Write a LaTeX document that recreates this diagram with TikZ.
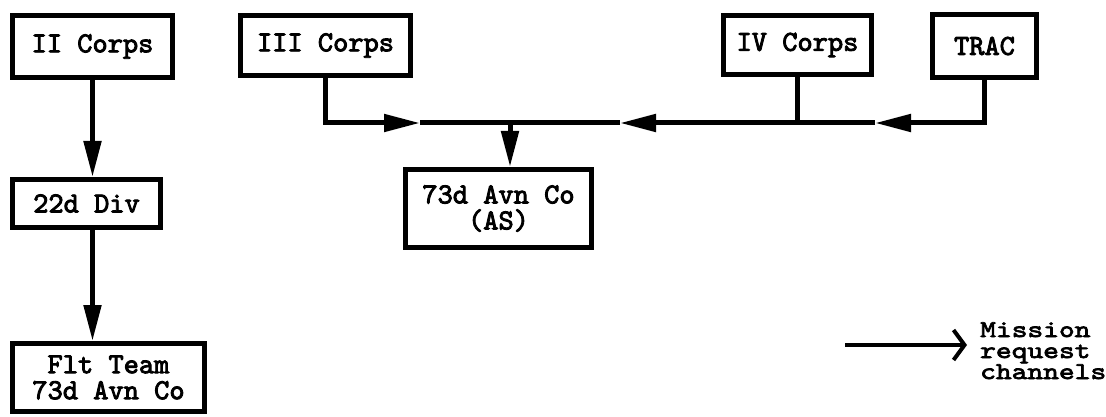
\documentclass[tikz,border=0pt]{standalone}
\usepackage{fontspec}
\usetikzlibrary{arrows.meta}
% heavy typewriter lettering
\newfontfamily\twb{lmmono10-regular.otf}[FakeBold=3]
\newfontfamily\twl{lmmono10-regular.otf}[FakeBold=3,FakeStretch=1.25]
\tikzset{
  box/.style={draw, line width=5pt, inner sep=0pt, align=center,
    font={\twb\fontsize{29}{26}\selectfont}},
  link/.style={line width=5pt},
  arr/.style={link, -{Triangle[length=36pt,width=17pt]}},
  legendarr/.style={line width=4pt, -{Straight Barb[length=11pt,width=30pt,line width=4pt]}},
  legendtext/.style={align=left, inner sep=0pt,
    font={\twl\fontsize{24}{21}\selectfont}}
}
\begin{document}
\begin{tikzpicture}[x=1pt,y=-1pt]
  \useasboundingbox (0,0) rectangle (1106,417);

  % boxes
  \node[box, minimum width=160pt, minimum height=62pt] (II)   at (92.5,46.5)  {II Corps};
  \node[box, minimum width=148pt, minimum height=48pt] (div)  at (86.5,203.5) {22d Div};
  \node[box, minimum width=192pt, minimum height=68pt] (flt)  at (108.5,377.5) {Flt Team\\73d Avn Co};
  \node[box, minimum width=170pt, minimum height=60pt] (III)  at (325.5,45.5) {III Corps};
  \node[box, minimum width=186pt, minimum height=78pt] (avn)  at (498.5,208.5) {73d Avn Co\\(AS)};
  \node[box, minimum width=148pt, minimum height=59pt] (IV)   at (797.5,45)   {IV Corps};
  \node[box, minimum width=104pt, minimum height=63pt] (trac) at (984.5,46)   {TRAC};

  % left chain
  \draw[arr] (II.south) -- (II.south |- div.north);
  \draw[arr] (II.south |- div.south) -- (II.south |- flt.north);

  % common bus feeding the 73d Avn Co
  \coordinate (j)  at (510,123);
  \coordinate (k)  at (IV.south |- j);
  \coordinate (tA) at (420,123);
  \coordinate (tB) at (620,123);
  \coordinate (tC) at (875,123);

  \draw[arr] (III.south) |- (tA);
  \draw[link] (tA) -- (j);
  \draw[link] (IV.south) -- (k);
  \draw[arr] (k) -- (tB);
  \draw[link] (tB) -- (j);
  \draw[arr] (trac.south) |- (tC);
  \draw[link] (tC) -- (k);
  \draw[arr] (j) -- (j |- avn.north);

  % legend
  \coordinate (lgA) at (845,345);
  \coordinate (lgB) at (967,345);
  \draw[legendarr] (lgA) -- (lgB);
  \node[legendtext, anchor=base west] (lgT) at (980,379) {Mission\\request\\channels};
\end{tikzpicture}
\end{document}
